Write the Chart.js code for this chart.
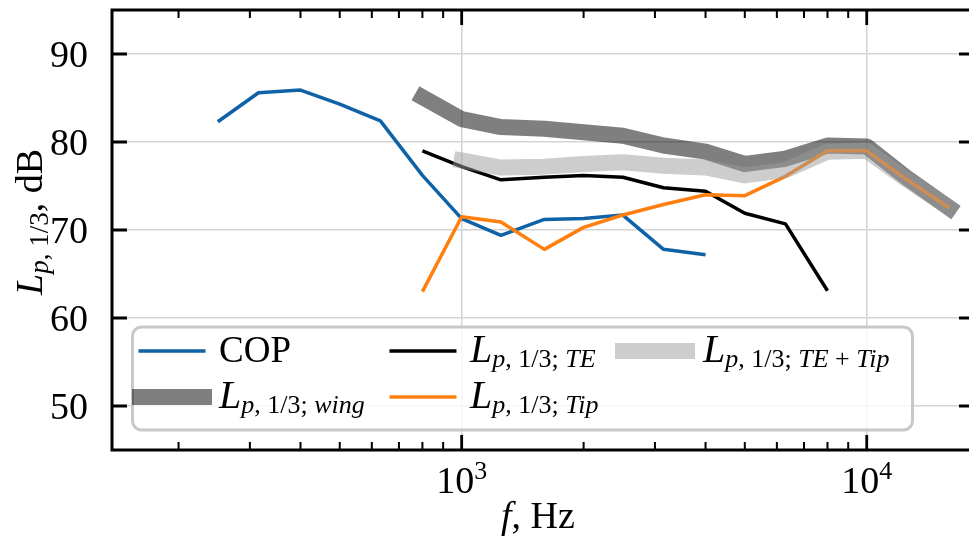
<!DOCTYPE html>
<html><head><meta charset="utf-8">
<script src="https://cdn.jsdelivr.net/npm/chart.js@4"></script>
<style>
html,body{margin:0;padding:0;overflow:hidden;background:#fff;}
#wrap{width:990px;height:538px;position:relative;}
</style></head><body>
<div id="wrap"><canvas id="c"></canvas></div>
<script>
// ---- data ----
const freqs = [250,315,400,500,630,800,1000,1250,1600,2000,2500,3150,4000,5000,6300,8000,10000,12500,16000];
const copLevels   = [82.3,85.6,85.9,84.3,82.4,76.2,71.3,69.4,71.2,71.3,71.7,67.8,67.2,null,null,null,null,null,null];
const wingLevels  = [null,null,null,null,null,85.1,82.6,81.7,81.5,81.1,80.7,79.6,78.9,77.5,78.1,79.6,79.5,76.0,72.5];
const teLevels    = [null,null,null,null,null,79.0,77.2,75.7,76.0,76.2,76.0,74.8,74.4,71.9,70.7,63.1,null,null,null];
const tipLevels   = [null,null,null,null,null,63.0,71.5,70.9,67.8,70.3,71.7,72.9,74.0,73.9,76.1,79.0,79.0,75.8,72.5];
const teTipLevels = [null,null,null,null,null,null,77.9,77.1,77.2,77.5,77.7,77.3,77.1,76.2,76.8,78.9,79.0,75.8,72.5];
const yTicks = [50,60,70,80,90];
const xMajorTicks = [1000,10000];
const xMinorTicks = [200,300,400,500,600,700,800,900,2000,3000,4000,5000,6000,7000,8000,9000];
const seriesNames = ['COP','wing','TE','Tip','TE + Tip'];
const xTitle = ['f', ', Hz'];
const yTitleUnit = ', dB';

// ---- helpers ----
const SERIF = '"Liberation Serif", "Times New Roman", serif';
const it = n => `italic ${n}px ${SERIF}`;
const rm = n => `${n}px ${SERIF}`;
function lpSegs(name, mainPx, subPx, dy){
  const segs = [{t:'L',font:it(mainPx)},{t:'p',font:it(subPx),dy},{t:', 1/3',font:rm(subPx),dy}];
  if (name){
    segs.push({t:'; ',font:rm(subPx),dy});
    const parts = name.split(' + ');
    parts.forEach((p,k)=>{ if(k>0) segs.push({t:' + ',font:rm(subPx),dy}); segs.push({t:p,font:it(subPx),dy}); });
  }
  return segs;
}
function richWidth(ctx, segs){ let w=0; for(const s of segs){ctx.font=s.font; w+=ctx.measureText(s.t).width;} return w; }
function drawRich(ctx, segs, x, y){ for(const s of segs){ctx.font=s.font; ctx.fillText(s.t, x, y+(s.dy||0)); x+=ctx.measureText(s.t).width;} }
const pts = arr => freqs.map((f,i)=>({x:f, y:arr[i]}));

const deco = {
  id:'deco',
  afterDraw(chart){
    const ctx = chart.ctx, a = chart.chartArea, xs = chart.scales.x, ys = chart.scales.y;
    ctx.save();
    ctx.strokeStyle = '#000'; ctx.fillStyle = '#000';
    // spines
    ctx.lineWidth = 3;
    ctx.strokeRect(a.left, a.top, a.right - a.left, a.bottom - a.top);
    // major ticks (inward, all sides)
    ctx.lineWidth = 2.8; ctx.beginPath();
    yTicks.forEach(v=>{ const p = ys.getPixelForValue(v);
      ctx.moveTo(a.left, p); ctx.lineTo(a.left+15, p);
      ctx.moveTo(a.right, p); ctx.lineTo(a.right-15, p); });
    xMajorTicks.forEach(v=>{ const p = xs.getPixelForValue(v);
      ctx.moveTo(p, a.bottom); ctx.lineTo(p, a.bottom-15);
      ctx.moveTo(p, a.top); ctx.lineTo(p, a.top+15); });
    ctx.stroke();
    // minor ticks
    ctx.lineWidth = 2; ctx.beginPath();
    xMinorTicks.forEach(v=>{ const p = xs.getPixelForValue(v);
      ctx.moveTo(p, a.bottom); ctx.lineTo(p, a.bottom-8);
      ctx.moveTo(p, a.top); ctx.lineTo(p, a.top+8); });
    ctx.stroke();
    // y tick labels
    ctx.textBaseline = 'alphabetic';
    ctx.textAlign = 'right'; ctx.font = rm(38);
    yTicks.forEach(v=>{ const p = ys.getPixelForValue(v); ctx.fillText(String(v), a.left - 24, p + 13); });
    ctx.textAlign = 'left';
    // x tick labels 10^n
    xMajorTicks.forEach(v=>{
      const p = xs.getPixelForValue(v);
      const segs = [{t:'10',font:rm(38)},{t:String(Math.round(Math.log10(v))),font:rm(26),dy:-14}];
      drawRich(ctx, segs, p - richWidth(ctx,segs)/2, a.bottom + 43);
    });
    // x title
    const xt = [{t:xTitle[0],font:it(38)},{t:xTitle[1],font:rm(38)}];
    drawRich(ctx, xt, 538 - richWidth(ctx,xt)/2, 528);
    // y title
    const yt = lpSegs(null, 38, 27, 6).concat([{t:yTitleUnit,font:rm(38)}]);
    ctx.save(); ctx.translate(42, 222); ctx.rotate(-Math.PI/2);
    drawRich(ctx, yt, -richWidth(ctx,yt)/2, 0); ctx.restore();
    // legend
    const bx=132.5, by=327, bw=780, bh=103, r=9;
    ctx.beginPath();
    ctx.moveTo(bx+r,by); ctx.arcTo(bx+bw,by,bx+bw,by+bh,r); ctx.arcTo(bx+bw,by+bh,bx,by+bh,r);
    ctx.arcTo(bx,by+bh,bx,by,r); ctx.arcTo(bx,by,bx+bw,by,r); ctx.closePath();
    ctx.fillStyle='rgba(255,255,255,0.8)'; ctx.fill();
    ctx.strokeStyle='#c8c8c8'; ctx.lineWidth=3; ctx.stroke();
    const hx=[140,391,623], tx=[219,470,703], rowY=[351,397];
    chart.data.datasets.forEach((ds,i)=>{
      const col=Math.floor(i/2), row=i%2, cy=rowY[row];
      ctx.beginPath(); ctx.lineCap = ds.borderWidth>5 ? 'square' : 'butt';
      ctx.strokeStyle=ds.borderColor; ctx.lineWidth=ds.borderWidth;
      const ext = ds.borderWidth>5 ? 0 : 1.5;
      ctx.moveTo(hx[col]-ext, cy); ctx.lineTo(hx[col]+64+ext, cy); ctx.stroke();
      ctx.fillStyle='#000';
      const name = seriesNames[i];
      const segs = name==='COP' ? [{t:'COP',font:rm(37)}] : lpSegs(name, 40, 26, 5);
      drawRich(ctx, segs, tx[col], cy+11);
    });
    ctx.restore();
  }
};

new Chart(document.getElementById('c'), {
  type:'line',
  data:{ datasets:[
    {label:'COP', data:pts(copLevels), borderColor:'#0f62a6', borderWidth:3.5, order:5},
    {label:'Lp,1/3;wing', data:pts(wingLevels), borderColor:'rgba(0,0,0,0.5)', borderWidth:16, borderCapStyle:'square', order:4},
    {label:'Lp,1/3;TE', data:pts(teLevels), borderColor:'#000000', borderWidth:3.5, order:3},
    {label:'Lp,1/3;Tip', data:pts(tipLevels), borderColor:'#ff7f0e', borderWidth:3.5, order:2},
    {label:'Lp,1/3;TE+Tip', data:pts(teTipLevels), borderColor:'rgba(155,155,155,0.5)', borderWidth:16, borderCapStyle:'square', order:1}
  ]},
  options:{
    responsive:true, maintainAspectRatio:false, animation:false, devicePixelRatio:1,
    elements:{ point:{radius:0, hoverRadius:0}, line:{tension:0, borderJoinStyle:'round', fill:false} },
    layout:{ padding:{top:10, right:16, left:0, bottom:0} },
    plugins:{ legend:{display:false}, tooltip:{enabled:false} },
    scales:{
      x:{ type:'logarithmic', min:137, max:18400,
          afterBuildTicks: s => { s.ticks = xMajorTicks.map(v=>({value:v})); },
          afterFit: s => { s.height = 88; s.paddingLeft = 0; s.paddingRight = 0; },
          grid:{ color:'#d4d4d4', lineWidth:1.5, drawTicks:false },
          border:{ display:false },
          ticks:{ display:false } },
      y:{ type:'linear', min:45, max:95,
          afterBuildTicks: s => { s.ticks = yTicks.map(v=>({value:v})); },
          afterFit: s => { s.width = 112; s.paddingTop = 0; s.paddingBottom = 0; },
          grid:{ color:'#d4d4d4', lineWidth:1.5, drawTicks:false },
          border:{ display:false },
          ticks:{ display:false } }
    }
  },
  plugins:[deco]
});
</script>
</body></html>
